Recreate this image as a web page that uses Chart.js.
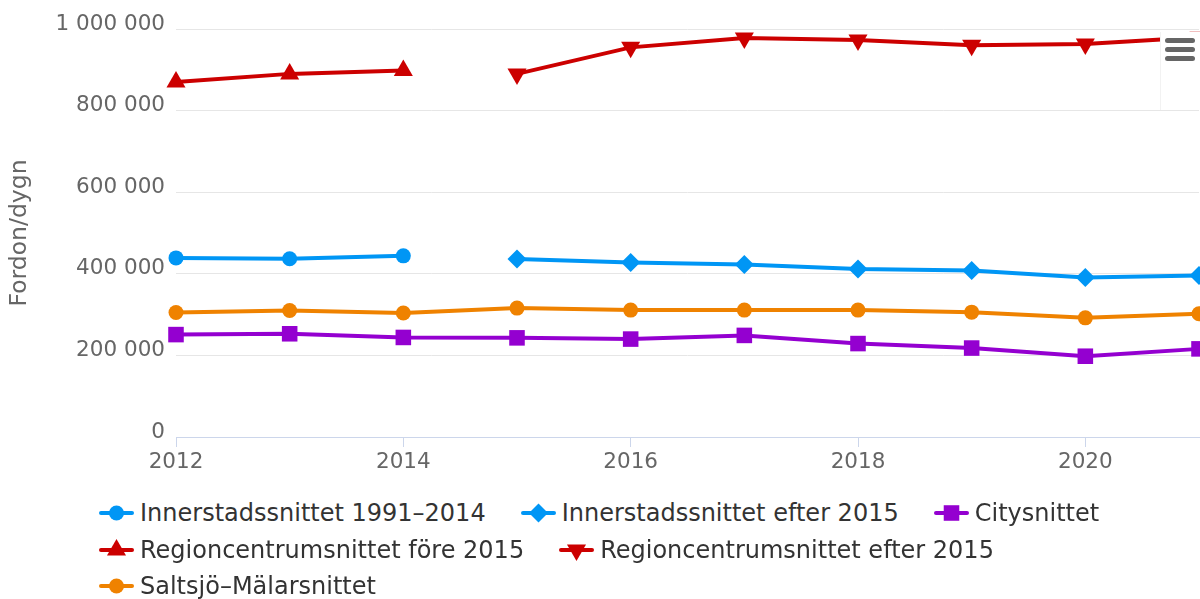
<!DOCTYPE html>
<html>
<head>
<meta charset="utf-8">
<script src="https://cdn.jsdelivr.net/npm/chart.js@4/dist/chart.umd.min.js"></script>
<style>
html,body{margin:0;padding:0;background:#fff;}
#wrap{position:relative;width:1200px;height:599px;overflow:hidden;font-family:"DejaVu Sans",sans-serif;}
#chartBox{position:absolute;left:0;top:0;width:1200px;height:480px;}
#legend{position:absolute;left:99px;top:495px;width:1100px;display:flex;flex-wrap:wrap;column-gap:35px;row-gap:0;}
.item{display:flex;align-items:center;height:36.5px;font-size:24px;color:#333;white-space:nowrap;}
.item canvas{margin-right:6px;display:block;}
#menu{position:absolute;left:1160px;top:32px;width:40px;height:78px;background:#fff;border-left:1px solid #f2f2f2;}
.bar{position:absolute;left:4px;width:30px;height:5px;border-radius:3px;background:#666;}
</style>
</head>
<body>
<div id="wrap">
  <div id="chartBox"><canvas id="c" width="1200" height="480"></canvas></div>
  <div id="legend"></div>
  <div id="menu"><div class="bar" style="top:6px"></div><div class="bar" style="top:15px"></div><div class="bar" style="top:24px"></div></div>
</div>
<script>
// ---- data ----
const years = [2012, 2013, 2014, 2015, 2016, 2017, 2018, 2019, 2020, 2021];
const xTickYears = [2012, 2014, 2016, 2018, 2020];
const yTickValues = [0, 200000, 400000, 600000, 800000, 1000000];

const seriesNames = [
  'Innerstadssnittet 1991–2014',
  'Innerstadssnittet efter 2015',
  'Citysnittet',
  'Regioncentrumsnittet före 2015',
  'Regioncentrumsnittet efter 2015',
  'Saltsjö–Mälarsnittet'
];
const innerstadFore = [439000, 437000, 444000, null, null, null, null, null, null, null];
const innerstadEfter = [null, null, null, 436000, 428000, 423000, 412000, 408000, 391000, 396000];
const city = [251000, 253000, 244000, 243000, 240000, 249000, 229000, 218000, 198000, 216000];
const regionFore = [870000, 890000, 898000, null, null, null, null, null, null, null];
const regionEfter = [null, null, null, 890000, 955000, 978000, 973000, 960000, 963000, 980000];
const saltsjo = [305000, 310000, 304000, 316000, 311000, 311000, 311000, 306000, 292000, 302000];

const colors = ['#0096f5', '#0096f5', '#9400d0', '#cc0000', '#cc0000', '#ef8200'];
const styles = [
  {pointStyle: 'circle', radius: 7.5, rotation: 0},
  {pointStyle: 'rectRot', radius: 9.5, rotation: 0},
  {pointStyle: 'rect', radius: 11, rotation: 0},
  {pointStyle: 'triangle', radius: 11, rotation: 0},
  {pointStyle: 'triangle', radius: 11, rotation: 180},
  {pointStyle: 'circle', radius: 7.5, rotation: 0}
];
const valueSets = [innerstadFore, innerstadEfter, city, regionFore, regionEfter, saltsjo];

function fmt(v) { return String(v).replace(/\B(?=(\d{3})+(?!\d))/g, ' '); }

const datasets = valueSets.map((vals, i) => ({
  label: seriesNames[i],
  data: years.map((yr, j) => ({x: yr, y: vals[j]})),
  borderColor: colors[i],
  backgroundColor: colors[i],
  pointBackgroundColor: colors[i],
  pointBorderColor: colors[i],
  pointBorderWidth: 0,
  pointStyle: styles[i].pointStyle,
  pointRadius: styles[i].radius,
  pointHoverRadius: styles[i].radius,
  pointRotation: styles[i].rotation,
  borderWidth: 4,
  tension: 0,
  spanGaps: false,
  clip: false,
  fill: false
}));

const chart = new Chart(document.getElementById('c'), {
  type: 'line',
  data: {datasets},
  options: {
    responsive: false,
    animation: false,
    devicePixelRatio: 1,
    layout: {autoPadding: false, padding: {top: 29, right: 1, bottom: 0, left: 0}},
    plugins: {legend: {display: false}, tooltip: {enabled: false}},
    scales: {
      x: {
        type: 'linear', min: 2012, max: 2021,
        afterBuildTicks(s) { s.ticks = xTickYears.map(v => ({value: v})); },
        afterFit(s) { s.height = 43; s.paddingLeft = 0; s.paddingRight = 0; },
        ticks: {color: '#666', font: {family: 'DejaVu Sans', size: 21.5}, padding: 3, maxRotation: 0, autoSkip: false, callback: v => String(v)},
        grid: {drawOnChartArea: false, drawTicks: true, tickLength: 10, color: '#ccd6eb'},
        border: {color: '#ccd6eb', width: 1}
      },
      y: {
        min: 0, max: 1000000,
        afterBuildTicks(s) { s.ticks = yTickValues.map(v => ({value: v})); },
        afterFit(s) { s.width = 176; s.paddingTop = 0; s.paddingBottom = 0; },
        ticks: {color: '#666', font: {family: 'DejaVu Sans', size: 21.5}, padding: 11, labelOffset: -5, callback: v => fmt(v)},
        grid: {color: '#e6e6e6', drawTicks: false, lineWidth: 1},
        border: {display: false},
        title: {display: true, text: 'Fordon/dygn', color: '#666', font: {family: 'DejaVu Sans', size: 23.5}, padding: {top: 6, bottom: 0}}
      }
    }
  }
});

// ---- HTML legend built from the chart's datasets ----
function drawMarker(ctx, st, x, y) {
  const r = st.radius;
  ctx.beginPath();
  if (st.pointStyle === 'circle') {
    ctx.arc(x, y, r, 0, Math.PI * 2);
  } else if (st.pointStyle === 'rect') {
    const h = r * Math.SQRT1_2;
    ctx.rect(x - h, y - h, 2 * h, 2 * h);
  } else if (st.pointStyle === 'rectRot') {
    ctx.moveTo(x, y - r); ctx.lineTo(x + r, y); ctx.lineTo(x, y + r); ctx.lineTo(x - r, y);
  } else if (st.pointStyle === 'triangle') {
    let rad = st.rotation * Math.PI / 180;
    for (let k = 0; k < 3; k++) {
      const px = x + Math.sin(rad) * r, py = y - Math.cos(rad) * r;
      if (k === 0) ctx.moveTo(px, py); else ctx.lineTo(px, py);
      rad += 2 * Math.PI / 3;
    }
  }
  ctx.closePath();
  ctx.fill();
}
const legendEl = document.getElementById('legend');
chart.data.datasets.forEach((ds, i) => {
  const item = document.createElement('div');
  item.className = 'item';
  const cv = document.createElement('canvas');
  cv.width = 35; cv.height = 24;
  const cx = cv.getContext('2d');
  cx.strokeStyle = ds.borderColor; cx.fillStyle = ds.borderColor;
  cx.lineWidth = 4; cx.lineCap = 'round';
  cx.beginPath(); cx.moveTo(2, 12); cx.lineTo(33, 12); cx.stroke();
  drawMarker(cx, styles[i], 17.5, 12);
  const sp = document.createElement('span');
  sp.textContent = ds.label;
  item.appendChild(cv); item.appendChild(sp);
  legendEl.appendChild(item);
});
</script>
</body>
</html>
